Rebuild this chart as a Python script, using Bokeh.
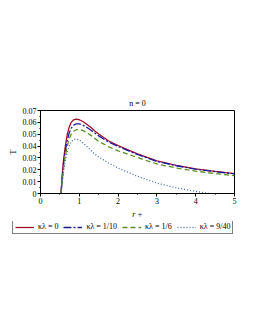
from bokeh.plotting import figure
from bokeh.layouts import column
from bokeh.models import Legend, LegendItem, ColumnDataSource, FixedTicker, CustomJSTickFormatter, Range1d
from bokeh.embed import file_html
from bokeh.resources import INLINE

r = [0.53, 0.55, 0.57, 0.6, 0.64, 0.69, 0.74, 0.79, 0.85, 0.92, 1.0, 1.1, 1.2, 1.3, 1.4, 1.5, 1.75, 2.0, 2.5, 3.0, 3.5, 4.0, 4.5, 5.0]
T_0 = [0.0, 0.011, 0.020, 0.030, 0.040, 0.050, 0.056, 0.060, 0.062, 0.0627, 0.0622, 0.0605, 0.0582, 0.0556, 0.0528, 0.0502, 0.0445, 0.0405, 0.0335, 0.0275, 0.0237, 0.0208, 0.0186, 0.0168]
T_1_10 = [0.0, 0.009, 0.017, 0.027, 0.036, 0.045, 0.051, 0.055, 0.0575, 0.0588, 0.0588, 0.0575, 0.0556, 0.0534, 0.051, 0.0486, 0.0435, 0.0397, 0.0329, 0.0271, 0.0234, 0.0205, 0.0184, 0.0166]
T_1_6 = [0.0, 0.007, 0.014, 0.023, 0.032, 0.040, 0.046, 0.050, 0.0525, 0.0538, 0.054, 0.0530, 0.0512, 0.049, 0.0465, 0.044, 0.0395, 0.036, 0.0303, 0.0249, 0.0215, 0.0188, 0.0168, 0.0151]
T_9_40 = [0.0, 0.006, 0.012, 0.020, 0.028, 0.035, 0.040, 0.0435, 0.0455, 0.046, 0.0452, 0.0425, 0.0395, 0.0363, 0.0332, 0.0308, 0.0258, 0.0215, 0.0145, 0.0088, 0.0048, 0.0018, -0.0008, -0.003]
labels = ["κλ = 0", "κλ = 1/10", "κλ = 1/6", "κλ = 9/40"]
x_ticks = [0, 1, 2, 3, 4, 5]
y_ticks = [0, 0.01, 0.02, 0.03, 0.04, 0.05, 0.06, 0.07]

FONT = "Liberation Serif"

p = figure(width=239, height=221, output_backend="svg", toolbar_location=None,
           x_range=Range1d(0, 5), y_range=Range1d(0, 0.07),
           min_border_left=40, min_border_right=5, min_border_top=110, min_border_bottom=27,
           title="n = 0")
p.title.text_font = FONT
p.title.text_font_size = "8px"
p.title.text_font_style = "normal"
p.title.text_color = "black"
p.title.align = "center"
p.title.standoff = 5

p.outline_line_color = "black"
p.outline_line_width = 1
p.grid.visible = False

for ax in (p.xaxis[0], p.yaxis[0]):
    ax.major_label_text_font = FONT
    ax.major_label_text_font_size = "8px"
    ax.major_label_text_color = "black"
    ax.axis_label_text_font = FONT
    ax.axis_label_text_font_size = "8px"
    ax.axis_label_text_font_style = "normal"
    ax.axis_label_text_color = "black"
    ax.major_tick_out = 3
    ax.major_tick_in = 0
    ax.minor_tick_out = 1
    ax.minor_tick_in = 0
    ax.axis_line_color = "black"
    ax.major_label_standoff = 1

p.xaxis[0].ticker = FixedTicker(ticks=x_ticks, minor_ticks=[0.5, 1.5, 2.5, 3.5, 4.5])
p.yaxis[0].ticker = FixedTicker(ticks=y_ticks, minor_ticks=[0.005, 0.015, 0.025, 0.035, 0.045, 0.055, 0.065])
p.yaxis[0].formatter = CustomJSTickFormatter(code="return tick == 0 ? '0' : tick.toFixed(2);")
p.xaxis[0].axis_label = "r +"
p.xaxis[0].axis_label_text_font_style = "italic"
p.xaxis[0].axis_label_standoff = 3
p.yaxis[0].axis_label = "T"
p.yaxis[0].axis_label_standoff = 2

src = ColumnDataSource(dict(r=r, a=T_0, b=T_1_10, c=T_1_6, d=T_9_40))
styles = [("a", "#a0102a", "solid"), ("b", "#1a1a9a", "8 2 2 2"),
          ("c", "#5a9020", "5 3"), ("d", "#4a6aaa", "1 2")]
for col, color, dash in styles:
    p.line("r", col, source=src, line_color=color, line_width=1.3, line_dash=dash)

# legend strip below the plot (its own frame spans the full width)
p2 = figure(width=239, height=14, output_backend="svg", toolbar_location=None,
            x_range=Range1d(0, 1), y_range=Range1d(0, 1),
            x_axis_type=None, y_axis_type=None,
            min_border_left=0, min_border_right=0, min_border_top=0, min_border_bottom=0)
p2.grid.visible = False
p2.outline_line_color = None
if "frame_align" in p2.properties():
    p.frame_align = False
    p2.frame_align = False
items = []
for (col, color, dash), lab in zip(styles, labels):
    rr = p2.line(x=[-5, -4], y=[-5, -4], line_color=color, line_width=1.3, line_dash=dash)
    items.append(LegendItem(label=lab, renderers=[rr]))
legend = Legend(items=items, orientation="horizontal", location=(12, 1),
                label_text_font=FONT, label_text_font_size="8px", label_text_color="black",
                glyph_width=19, glyph_height=8, label_standoff=4, spacing=5,
                padding=2, margin=0, label_height=8, label_width=10,
                border_line_color="black", border_line_width=1)
p2.add_layout(legend, "center")

layout = column(p, p2, spacing=0)
open("out.html", "w").write(file_html(layout, INLINE))
